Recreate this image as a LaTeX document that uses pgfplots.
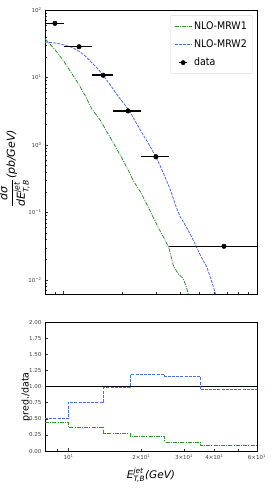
\documentclass[border=0pt]{standalone}
\usepackage{amsmath}
\usepackage{fontspec}
\setmainfont{DejaVu Sans}
\newfontfamily\cond{DejaVu Sans Condensed}
\usepackage{pgfplots}
\pgfplotsset{compat=1.18}
\usepackage{pgfplotstable}
\definecolor{mgreen}{RGB}{40,150,40}
\definecolor{mblue}{RGB}{70,110,230}

\pgfplotstableread{
x y xm xp
9 63.5 1 1
12 28.6 2 2
16 10.8 2 2
21.5 3.2 3.5 3.5
30 0.67 5 5
67.5 0.0316 32.5 32.5
}\datatab

\pgfplotstableread{
x y
8.0 37.5
9.0 26
10.0 17.5
11.0 11.5
12.0 7.8
13.0 5.2
14.0 3.4
15.5 2.3
17.0 1.45
18.5 0.95
20.0 0.64
21.5 0.43
23.0 0.29
25.0 0.20
27.0 0.13
29.0 0.085
31.0 0.058
33.0 0.042
35.0 0.030
37.0 0.016
39.0 0.0125
41.5 0.0105
43.0 0.008
44.2 0.0061
}\greentab

\pgfplotstableread{
x y
8.0 33.5
9.0 32.5
10.0 30.5
11.0 28
12.0 24.5
13.0 20.5
14.0 16.5
15.0 13.5
16.0 10.8
17.5 7.6
19.0 5.4
20.5 4.1
22.0 3.1
24.0 2.0
26.0 1.35
28.0 0.95
30.0 0.66
32.0 0.45
34.0 0.30
36.0 0.20
38.0 0.125
40.0 0.087
43.0 0.062
47.0 0.038
51.0 0.023
55.0 0.0155
58.0 0.010
61.0 0.0062
}\bluetab

\pgfplotstableread{
x y
8 0.50
10 0.76
14 0.98
18 1.18
25 1.16
35 0.95
60 0.95
}\rblue

\pgfplotstableread{
x y
8 0.45
10 0.37
14 0.27
18 0.22
25 0.14
35 0.08
60 0.08
}\rgreen

\pgfplotsset{
  mystyle/.style={
    scale only axis,
    width=212pt,
    axis line style={black, line width=0.6pt},
    tick align=inside,
    xtick pos=bottom, ytick pos=left,
    major tick length=3.5pt, minor tick length=2pt,
    tick style={black!80, line width=0.5pt},
    ticklabel style={font=\fontsize{5.5}{6}\selectfont, text=black!75},
  }
}

\begin{document}
\begin{tikzpicture}
\useasboundingbox (0,0) rectangle (272pt,490pt);
\begin{axis}[mystyle,
  at={(45pt,195.7pt)}, anchor=south west,
  height=284.3pt,
  xmode=log, ymode=log,
  xmin=8, xmax=100, ymin=0.00614, ymax=100,
  xtick={10,100}, minor xtick={9,20,30,40,50,60,70,80,90},
  xticklabel=\empty,
  ytick={0.01,0.1,1,10,100},
  yticklabels={10\textsuperscript{−2},10\textsuperscript{−1},10\textsuperscript{0},10\textsuperscript{1},10\textsuperscript{2}},
  minor ytick={0.007,0.008,0.009,0.02,0.03,0.04,0.05,0.06,0.07,0.08,0.09,0.2,0.3,0.4,0.5,0.6,0.7,0.8,0.9,2,3,4,5,6,7,8,9,20,30,40,50,60,70,80,90},
  ylabel={$\dfrac{\textit{dσ}}{\textit{dE}^{\textit{jet}}_{\textit{T,B}}}\textit{(pb/GeV)}$},
  ylabel style={at={(axis description cs:-0.145,0.442)}, anchor=center, font=\fontsize{11}{13}\selectfont},
  legend style={at={(rel axis cs:0.981,0.982)}, anchor=north east, draw=black!15, rounded corners=2pt,
    font=\cond\fontsize{10.5}{12}\selectfont, row sep=5pt, inner xsep=4pt, inner ysep=4pt},
  legend cell align=left,
]
\addplot[mgreen, line width=0.8pt, dash pattern=on 4pt off 1.2pt on 1pt off 1.2pt] table[x=x,y=y]{\greentab};
\addlegendentry{NLO-MRW1}
\addplot[mblue, line width=0.8pt, dash pattern=on 3pt off 1.2pt] table[x=x,y=y]{\bluetab};
\addlegendentry{NLO-MRW2}
\addplot[black, only marks, mark=*, mark size=2.3pt,
  legend image code/.code={\draw[black, line width=1.5pt] (0.17cm,0cm) -- (0.43cm,0cm); \fill[black] (0.3cm,0cm) circle (2.2pt);},
  error bars/.cd, x dir=both, x explicit, error mark=none,
  error bar style={line width=1.5pt, black}]
  table[x=x, y=y, x error minus=xm, x error plus=xp]{\datatab};
\addlegendentry{data}
\end{axis}

\begin{axis}[mystyle,
  at={(45pt,39pt)}, anchor=south west,
  height=129pt,
  xmode=log,
  xmin=8, xmax=60, ymin=0, ymax=2,
  xtick={10}, xticklabels={10\textsuperscript{1}},
  extra x ticks={20,30,40,60},
  extra x tick labels={2×10\textsuperscript{1},3×10\textsuperscript{1},4×10\textsuperscript{1},6×10\textsuperscript{1}},
  extra x tick style={major tick length=2pt},
  minor xtick={9,50},
  ytick={0,0.25,0.5,0.75,1,1.25,1.5,1.75,2},
  yticklabels={0.00,0.25,0.50,0.75,1.00,1.25,1.50,1.75,2.00},
  ylabel={pred./data},
  ylabel style={at={(axis description cs:-0.09,0.42)}, anchor=center, font=\fontsize{9.5}{11}\selectfont},
  xlabel={\textit{E}$^{\textit{jet}}_{\textit{T,B}}$\textit{(GeV)}},
  xlabel style={at={(axis description cs:0.5,-0.186)}, anchor=center, font=\fontsize{10.5}{12}\selectfont},
]
\addplot[black, line width=1.2pt] coordinates {(8,1) (60,1)};
\addplot[mblue, line width=0.8pt, dash pattern=on 3pt off 1.2pt, const plot mark left] table[x=x,y=y]{\rblue};
\addplot[mgreen, line width=0.8pt, dash pattern=on 4pt off 1.2pt on 1pt off 1.2pt, const plot mark left] table[x=x,y=y]{\rgreen};
\end{axis}
\end{tikzpicture}
\end{document}
